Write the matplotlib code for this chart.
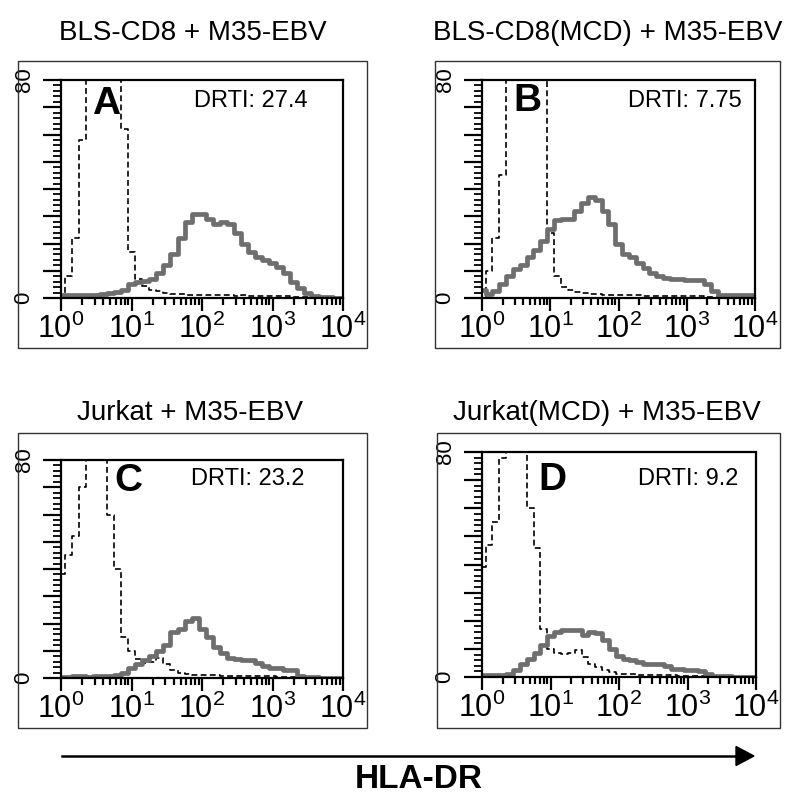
import numpy as np
import matplotlib.pyplot as plt
from matplotlib.patches import Rectangle
from matplotlib.ticker import FixedLocator, NullFormatter, LogLocator

plt.rcParams['font.family'] = ['Liberation Sans', 'DejaVu Sans']
plt.rcParams['mathtext.fontset'] = 'custom'
plt.rcParams['mathtext.rm'] = 'Liberation Sans'

# fluorescence channels, 0.1 decade apart from 10^0 to 10^4
log_bins = np.round(np.arange(41) * 0.1, 1)
intensity = 10 ** log_bins

titles = ['BLS-CD8 + M35-EBV', 'BLS-CD8(MCD) + M35-EBV',
          'Jurkat + M35-EBV', 'Jurkat(MCD) + M35-EBV']
letters = ['A', 'B', 'C', 'D']
drti = ['DRTI: 27.4', 'DRTI: 7.75', 'DRTI: 23.2', 'DRTI: 9.2']

# control (dashed) histograms
ctrl_a = [0, 8, 22, 58, 95, 100, 100, 100, 100, 62, 17, 7, 4.5, 3, 2.4, 2, 1.6, 1.3, 1.1, 1,
          1, 1, 1.2, 1, 1, 0.8, 1, 0.8, 0.8, 0.7, 0.7, 0.6, 0.6, 0.5, 0.5, 0.4, 0.3, 0.3, 0.2, 0.2, 0]
ctrl_b = [0, 10, 22, 45, 85, 100, 100, 100, 100, 100, 24, 8, 4, 3, 2.2, 1.8, 1.5, 1.3, 1.2, 1.2,
          1, 1.1, 1, 1, 0.9, 0.9, 0.8, 0.8, 0.7, 0.7, 0.7, 0.6, 0.6, 0.5, 0.5, 0.4, 0.4, 0.3, 0.3, 0.2, 0.2]
ctrl_c = [38, 45, 52, 70, 100, 100, 100, 60, 40, 15, 10, 7, 5.5, 6, 7.5, 5, 3, 2, 1.6, 1.2,
          1, 1, 1, 0.8, 0.8, 0.8, 0.8, 0.7, 0.7, 0.6, 0.6, 0.5, 0.5, 0.4, 0.3, 0.2, 0.2, 0.1, 0.1, 0, 0]
ctrl_d = [39, 47, 55, 78, 100, 100, 100, 60, 46, 17, 10, 8.4, 8.2, 8.5, 9.5, 7, 4.5, 3.5, 2.5, 1.8,
          1.2, 1, 0.9, 0.8, 0.8, 0.7, 0.7, 0.6, 0.6, 0.5, 0.5, 0.4, 0.3, 0.3, 0.2, 0.2, 0.1, 0.1, 0.1, 0, 0]

# HLA-DR stained (grey) histograms
hla_a = [1, 1, 1, 1, 1, 1.2, 1.5, 1.8, 2.2, 2.8, 5, 5.8, 6.3, 7, 9, 12, 16, 22, 28, 31,
         31, 29, 27, 28, 27, 24, 20, 17, 15, 14, 12.8, 11.5, 9, 6, 3.5, 1.8, 0.8, 0.4, 0.2, 0, 0]
hla_b = [3, 1.5, 2.5, 5, 8, 10.5, 12, 15, 17.5, 21, 25.5, 28.5, 29, 29, 32, 35, 37, 36, 32, 27,
         20, 16, 15, 13, 11, 9, 8, 7.5, 7, 7, 6.5, 6.5, 6.5, 5, 2.5, 1.2, 1, 1, 1, 1, 1]
hla_c = [0.5, 0.5, 0.8, 0.6, 0.5, 0.8, 0.6, 0.8, 1, 2, 3.5, 5, 6.5, 8, 10, 12, 17, 18, 21, 22,
         18, 15, 11.5, 9, 7.5, 6.8, 6.7, 6.5, 5.5, 4.3, 3.8, 3.5, 3, 3, 0.6, 0.3, 0.2, 0, 0, 0, 0]
hla_d = [0.6, 0.6, 0.6, 0.8, 1.2, 2.4, 4.5, 6.5, 8.5, 11.5, 14.5, 16, 16.6, 16.6, 16.6, 15, 16, 15.5, 13, 10,
         7.5, 6.5, 6, 5.2, 4.8, 4.7, 4.7, 4, 3, 2.7, 2.5, 2.4, 2.2, 1, 0.5, 0.3, 0.2, 0, 0, 0, 0]

controls = [ctrl_a, ctrl_b, ctrl_c, ctrl_d]
stained = [hla_a, hla_b, hla_c, hla_d]

W, H = 800, 806
fig = plt.figure(figsize=(W / 100, H / 100), dpi=100)


def fx(px):
    return px / W


def fy(py):
    return 1 - py / H


# pixel boxes: inner axes (x0, y0, x1, y1), outer frame, title centre
inner = [(61, 80, 343, 298), (482, 80, 755, 298), (61, 460, 343, 678), (482, 452, 756, 677)]
outer = [(18, 61, 367, 348), (435, 61, 780, 348), (18, 433, 367, 728), (437, 433, 780, 728)]
title_xy = [(193, 33), (608, 33), (190, 413), (607, 413)]
letter_xy = [(0.16, 0.89), (0.165, 0.905), (0.24, 0.905), (0.256, 0.875)]
drti_xy = [(0.876, 0.905), (0.952, 0.905), (0.865, 0.912), (0.934, 0.88)]

for i in range(4):
    x0, y0, x1, y1 = outer[i]
    fig.add_artist(Rectangle((fx(x0), fy(y1)), fx(x1 - x0), (y1 - y0) / H,
                             transform=fig.transFigure, fill=False,
                             edgecolor='#333333', linewidth=1.0))
    fig.text(fx(title_xy[i][0]), fy(title_xy[i][1]), titles[i],
             ha='center', va='center', fontsize=20)

    x0, y0, x1, y1 = inner[i]
    ax = fig.add_axes([fx(x0), fy(y1), fx(x1 - x0), (y1 - y0) / H])
    ax.step(intensity, controls[i], where='mid', color='black',
            linewidth=1.2, linestyle=(0, (3.5, 2)))
    ax.step(intensity, stained[i], where='mid', color='#6e6e6e',
            linewidth=3.4)

    ax.set_xscale('log')
    ax.set_xlim(1, 1e4)
    ax.set_ylim(0, 80)
    for s in ax.spines.values():
        s.set_linewidth(1.6)

    ax.xaxis.set_major_locator(FixedLocator([1, 10, 100, 1000, 10000]))
    ax.set_xticklabels([r'$\mathregular{10^{%d}}$' % k for k in range(5)], fontsize=22)
    ax.xaxis.set_minor_locator(LogLocator(base=10, subs=np.arange(2, 10), numticks=20))
    ax.xaxis.set_minor_formatter(NullFormatter())
    ax.tick_params(axis='x', which='major', direction='out', length=9, width=1.6, pad=2)
    ax.tick_params(axis='x', which='minor', direction='out', length=5, width=1.6)

    ax.set_yticks(np.arange(0, 81, 10))
    ax.set_yticklabels(['0', '', '', '', '', '', '', '', '80'], rotation=90,
                       va='center', fontsize=16)
    ax.set_yticks(np.arange(0, 81, 2), minor=True)
    ax.tick_params(axis='y', which='major', direction='out', length=13, width=1.6, pad=6)
    ax.tick_params(axis='y', which='minor', direction='out', length=6, width=1.3)

    ax.text(letter_xy[i][0], letter_xy[i][1], letters[i], transform=ax.transAxes,
            ha='center', va='center', fontsize=28, fontweight='bold')
    ax.text(drti_xy[i][0], drti_xy[i][1], drti[i], transform=ax.transAxes,
            ha='right', va='center', fontsize=17)

# HLA-DR axis arrow
fig.add_artist(plt.Line2D([fx(62), fx(738)], [fy(756), fy(756)],
                          transform=fig.transFigure, color='black', linewidth=1.8))
fig.add_artist(plt.Polygon([[fx(736), fy(746.5)], [fx(754), fy(756)], [fx(736), fy(765.5)]],
                           closed=True, transform=fig.transFigure, color='black'))
fig.text(fx(419), fy(779), 'HLA-DR', ha='center', va='center',
         fontsize=24, fontweight='bold')

fig.savefig('out.png', dpi=100)
